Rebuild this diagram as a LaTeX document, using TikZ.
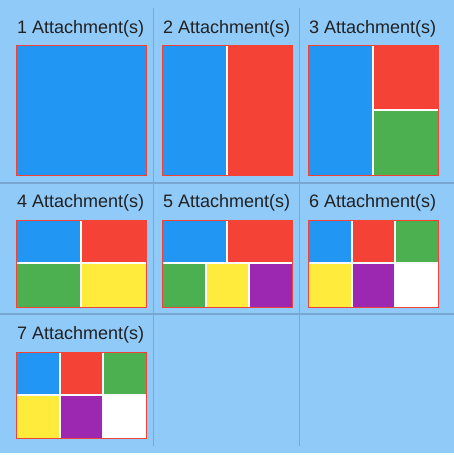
\documentclass[tikz,border=0pt]{standalone}
\usepackage{fontspec}
\setmainfont{Liberation Sans}
\definecolor{bgblue}{HTML}{90CAF9}
\definecolor{divline}{RGB}{122,166,210}
\definecolor{mblue}{HTML}{2196F3}
\definecolor{mred}{HTML}{F44336}
\definecolor{mgreen}{HTML}{4CAF50}
\definecolor{myellow}{HTML}{FFEB3B}
\definecolor{mpurple}{HTML}{9C27B0}
\definecolor{txt}{HTML}{212121}
\tikzset{
  title/.style={anchor=base west, inner sep=0pt, text=txt, font=\fontsize{18}{18}\selectfont},
  divider/.style={draw=divline, line width=1.3pt},
  frame/.style={draw=mred, line width=0.9pt},
  tile/.style={fill=#1}
}
\begin{document}
\begin{tikzpicture}[x=1pt,y=-1pt]
\useasboundingbox (0,0) rectangle (454,455);
\fill[white] (0,0) rectangle (454,455);
\fill[bgblue] (0,0) rectangle (454,453);
% dividers
\draw[divider] (0,183) -- (454,183);
\draw[divider] (0,314) -- (454,314);
\draw[divider] (153.5,8) -- (153.5,446);
\draw[divider] (299.5,8) -- (299.5,446);
% titles
\node[title] (t1) at (17,33) {1 Attachment(s)};
\node[title] (t2) at (163,33) {2 Attachment(s)};
\node[title] (t3) at (309,33) {3 Attachment(s)};
\node[title] (t4) at (17,207) {4 Attachment(s)};
\node[title] (t5) at (163,207) {5 Attachment(s)};
\node[title] (t6) at (309,207) {6 Attachment(s)};
\node[title] (t7) at (17,339) {7 Attachment(s)};
% cell 1
\fill[mblue] (16,45) rectangle (146,175);
\draw[frame] (16,45) rectangle (146,175);
% cell 2
\fill[white] (162,45) rectangle (292,175);
\fill[mblue] (162,45) rectangle (226,175);
\fill[mred] (228,45) rectangle (292,175);
\draw[frame] (162,45) rectangle (292,175);
% cell 3
\fill[white] (308,45) rectangle (438,175);
\fill[mblue] (308,45) rectangle (372,175);
\fill[mred] (374,45) rectangle (438,109);
\fill[mgreen] (374,111) rectangle (438,175);
\draw[frame] (308,45) rectangle (438,175);
% cell 4
\fill[white] (16,220) rectangle (146,307);
\fill[mblue] (16,220) rectangle (80,262);
\fill[mred] (82,220) rectangle (146,262);
\fill[mgreen] (16,264) rectangle (80,307);
\fill[myellow] (82,264) rectangle (146,307);
\draw[frame] (16,220) rectangle (146,307);
% cell 5
\fill[white] (162,220) rectangle (292,307);
\fill[mblue] (162,220) rectangle (226,262);
\fill[mred] (228,220) rectangle (292,262);
\fill[mgreen] (162,264) rectangle (205,307);
\fill[myellow] (207,264) rectangle (248,307);
\fill[mpurple] (250,264) rectangle (292,307);
\draw[frame] (162,220) rectangle (292,307);
% cell 6
\fill[white!90!bgblue] (308,220) rectangle (438,307);
\fill[mblue] (308,220) rectangle (351,262);
\fill[mred] (353,220) rectangle (394,262);
\fill[mgreen] (396,220) rectangle (438,262);
\fill[myellow] (308,264) rectangle (351,307);
\fill[mpurple] (353,264) rectangle (394,307);
\fill[white] (396,264) rectangle (438,307);
\draw[frame] (308,220) rectangle (438,307);
% cell 7
\fill[white!90!bgblue] (16,352) rectangle (146,438);
\fill[mblue] (16,352) rectangle (59,394);
\fill[mred] (61,352) rectangle (102,394);
\fill[mgreen] (104,352) rectangle (146,394);
\fill[myellow] (16,396) rectangle (59,438);
\fill[mpurple] (61,396) rectangle (102,438);
\fill[white] (104,396) rectangle (146,438);
\draw[frame] (16,352) rectangle (146,438);
\end{tikzpicture}
\end{document}
